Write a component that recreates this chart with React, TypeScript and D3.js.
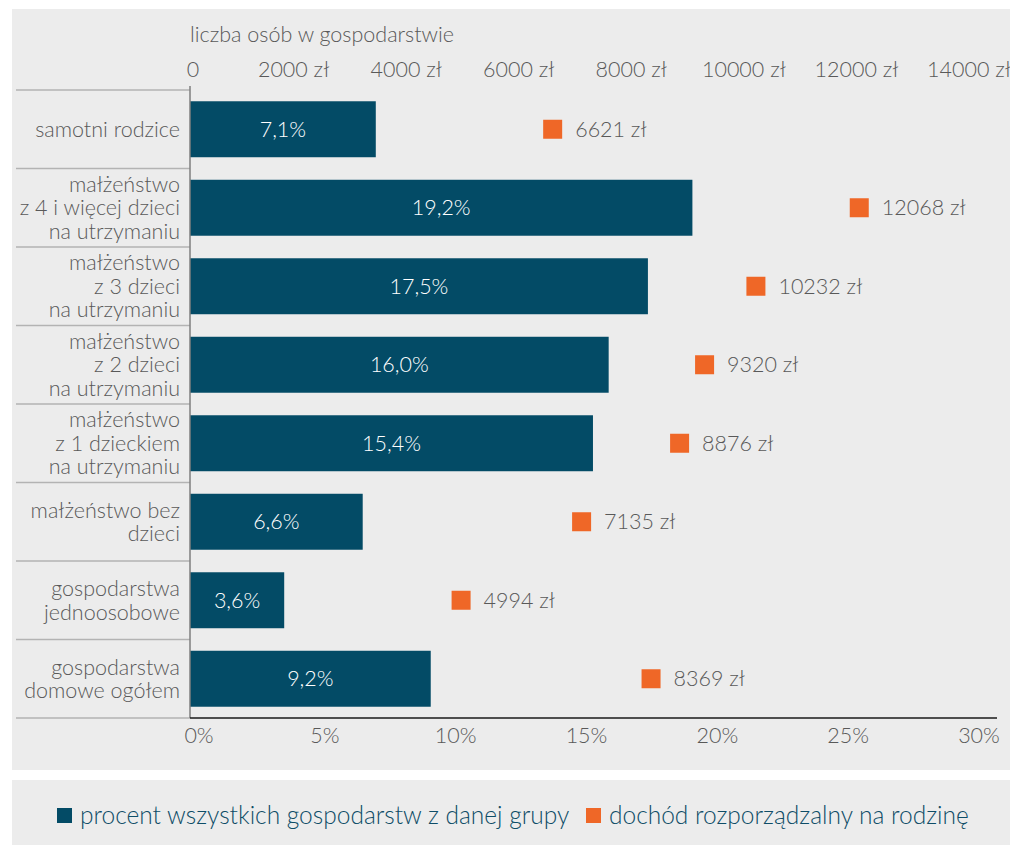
import React from "react";
import * as d3 from "d3";

const categories: string[][] = [
  ["samotni rodzice"],
  ["małżeństwo", "z 4 i więcej dzieci", "na utrzymaniu"],
  ["małżeństwo", "z 3 dzieci", "na utrzymaniu"],
  ["małżeństwo", "z 2 dzieci", "na utrzymaniu"],
  ["małżeństwo", "z 1 dzieckiem", "na utrzymaniu"],
  ["małżeństwo bez", "dzieci"],
  ["gospodarstwa", "jednoosobowe"],
  ["gospodarstwa", "domowe ogółem"],
];
const percentValues = [7.1, 19.2, 17.5, 16.0, 15.4, 6.6, 3.6, 9.2];
const incomeValues = [6621, 12068, 10232, 9320, 8876, 7135, 4994, 8369];
const percentTicks = [0, 5, 10, 15, 20, 25, 30];
const incomeTicks = [0, 2000, 4000, 6000, 8000, 10000, 12000, 14000];
const topTitle = "liczba osób w gospodarstwie";
const legendLabels = [
  "procent wszystkich gospodarstw z danej grupy",
  "dochód rozporządzalny na rodzinę",
];

const BAR = "#034b66";
const ORANGE = "#ef6727";
const GREY_TXT = "#595959";
const LEGEND_TXT = "#0e4d67";
const FONT = "Lato, 'Open Sans', sans-serif";
const FW = 300;
const FS = 21.5;

export default function App() {
  const W = 1010;
  const H = 845;
  const plotLeft = 190;
  const plotTop = 90;
  const plotBottom = 718;

  const x = d3.scaleLinear().domain([0, 30]).range([plotLeft, 975]);
  const x2 = d3.scaleLinear().domain([0, 14000]).range([180, 968]);
  const y = d3
    .scaleBand<number>()
    .domain(d3.range(categories.length))
    .range([plotTop, plotBottom])
    .paddingInner(0.287)
    .paddingOuter(0.1435);
  const step = y.step();
  const bandTop = (i: number) => plotTop + i * step;

  const fmtPct = (v: number) => v.toFixed(1).replace(".", ",") + "%";
  const mk = 19;

  return (
    <svg
      width={W}
      height={H}
      style={{ position: "absolute", left: 0, top: 0, fontFamily: FONT, fontWeight: FW }}
    >
      <rect x={12} y={9} width={998} height={761} fill="#ececec" />
      <rect x={12} y={780} width={998} height={65} fill="#ececec" />

      <text x={190} y={42} fontSize={FS} fill={GREY_TXT}>
        {topTitle}
      </text>

      {incomeTicks.map((t) => (
        <text
          key={"it" + t}
          x={x2(t) + (t === 0 ? 13 : 1)}
          y={77}
          fontSize={FS}
          fill={GREY_TXT}
          textAnchor="middle"
        >
          {t === 0 ? "0" : `${t} zł`}
        </text>
      ))}

      {d3.range(categories.length + 1).map((i) => (
        <line
          key={"sep" + i}
          x1={16}
          x2={plotLeft}
          y1={bandTop(i)}
          y2={bandTop(i)}
          stroke="#b3b3b3"
          strokeWidth={1.5}
        />
      ))}

      {percentValues.map((v, i) => (
        <g key={"bar" + i}>
          <rect
            x={x(0)}
            y={y(i)!}
            width={x(v) - x(0)}
            height={y.bandwidth()}
            fill={BAR}
          />
          <text
            x={(x(0) + x(v)) / 2}
            y={y(i)! + y.bandwidth() / 2 + 7.5}
            fontSize={FS}
            fill="#ffffff"
            textAnchor="middle"
          >
            {fmtPct(v)}
          </text>
        </g>
      ))}

      {incomeValues.map((v, i) => {
        const cy = y(i)! + y.bandwidth() / 2;
        return (
          <g key={"mk" + i}>
            <rect
              x={x2(v) - mk / 2}
              y={cy - mk / 2}
              width={mk}
              height={mk}
              fill={ORANGE}
            />
            <text
              x={x2(v) + mk / 2 + 13}
              y={cy + 7.5}
              fontSize={FS}
              fill={GREY_TXT}
            >
              {`${v} zł`}
            </text>
          </g>
        );
      })}

      {categories.map((lines, i) => {
        const cy = bandTop(i) + step / 2;
        const lh = 23.5;
        const start = cy - ((lines.length - 1) * lh) / 2 + 7.5;
        return (
          <text
            key={"cat" + i}
            x={180}
            fontSize={FS}
            fill={GREY_TXT}
            textAnchor="end"
          >
            {lines.map((l, j) => (
              <tspan key={j} x={180} y={start + j * lh}>
                {l}
              </tspan>
            ))}
          </text>
        );
      })}

      <line
        x1={plotLeft}
        x2={plotLeft}
        y1={86}
        y2={plotBottom}
        stroke="#7f7f7f"
        strokeWidth={1.5}
      />
      <line
        x1={plotLeft}
        x2={997}
        y1={plotBottom}
        y2={plotBottom}
        stroke="#1a1a1a"
        strokeWidth={1.5}
      />

      {percentTicks.map((t) => (
        <text
          key={"pt" + t}
          x={x(t) + (t === 0 ? 9 : 4)}
          y={743}
          fontSize={FS}
          fill={GREY_TXT}
          textAnchor="middle"
        >
          {`${t}%`}
        </text>
      ))}

      <rect x={57} y={808} width={15} height={15} fill={BAR} />
      <text x={80} y={824} fontSize={24.5} fill={LEGEND_TXT}>
        {legendLabels[0]}
      </text>
      <rect x={586} y={808} width={15} height={15} fill={ORANGE} />
      <text x={609} y={824} fontSize={24.5} fill={LEGEND_TXT}>
        {legendLabels[1]}
      </text>
    </svg>
  );
}
